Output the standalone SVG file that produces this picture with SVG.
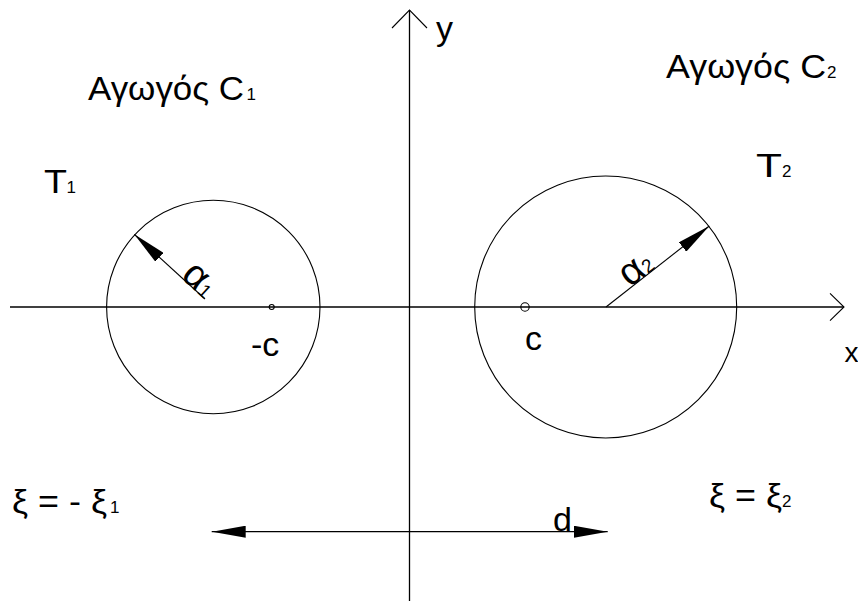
<svg xmlns="http://www.w3.org/2000/svg" width="858" height="601" viewBox="0 0 858 601">
<style>
.ln{stroke:#000;stroke-width:1.1;fill:none}
.ax{stroke:#000;stroke-width:1.3;fill:none}
.t{font-family:"Liberation Sans",Arial,sans-serif;font-size:34px;fill:#000}
.s{font-family:"Liberation Sans",Arial,sans-serif;font-size:17px;fill:#000}
.a{font-family:"Liberation Sans",Arial,sans-serif;font-size:39px;fill:#000}
</style>
<defs>
<marker id="ah" viewBox="0 0 34 12" refX="34" refY="6" markerWidth="34" markerHeight="12" markerUnits="userSpaceOnUse" orient="auto-start-reverse">
<path d="M0,0 L34,6 L0,12 z" fill="#000"/>
</marker>
</defs>
<g id="axes">
<line class="ax" x1="409.5" y1="10" x2="409.5" y2="601"/>
<polyline class="ln" points="392,28 409.5,10 427,28"/>
<line class="ax" x1="10" y1="307" x2="844" y2="307"/>
<polyline class="ln" points="830,293.3 844,307 830,320.7"/>
<text class="t" x="436" y="40">y</text>
<text class="t" x="844.5" y="361.5" style="font-size:28px">x</text>
</g>
<g id="conductor1">
<circle class="ln" cx="213.3" cy="307" r="106.7"/>
<circle class="ln" cx="271.7" cy="307" r="2.5"/>
<text class="t" x="88" y="100" textLength="156" lengthAdjust="spacingAndGlyphs">Αγωγός C</text>
<text class="s" x="246.5" y="100">1</text>
<text class="t" x="44" y="192.7" textLength="23" lengthAdjust="spacingAndGlyphs">T</text>
<text class="s" x="66.5" y="192.7">1</text>
<text class="t" x="251" y="356">-c</text>
<text class="t" x="12" y="513" textLength="95" lengthAdjust="spacingAndGlyphs">ξ = - ξ</text>
<text class="s" x="110" y="513">1</text>
</g>
<g id="conductor2">
<circle class="ln" cx="605.7" cy="307" r="131"/>
<circle class="ln" cx="525" cy="307" r="4.2"/>
<text class="t" x="666" y="77.7" textLength="160" lengthAdjust="spacingAndGlyphs">Αγωγός C</text>
<text class="s" x="827" y="77.7">2</text>
<text class="t" x="756" y="176.7" textLength="26" lengthAdjust="spacingAndGlyphs">T</text>
<text class="s" x="782" y="176.7">2</text>
<text class="t" x="525" y="350">c</text>
<text class="t" x="709" y="507" textLength="73" lengthAdjust="spacingAndGlyphs">ξ = ξ</text>
<text class="s" x="782" y="507">2</text>
</g>
<g id="connectors">
<line class="ln" x1="205" y1="299" x2="134.3" y2="234.3" marker-end="url(#ah)"/>
<text class="a" transform="translate(180,277) rotate(42.6)">α<tspan style="font-size:19px">1</tspan></text>
<line class="ln" x1="606" y1="307" x2="709.3" y2="226" marker-end="url(#ah)"/>
<text class="a" transform="translate(630,288) rotate(-38.1)">α<tspan style="font-size:19px">2</tspan></text>
<line class="ax" x1="211.7" y1="531.7" x2="607.7" y2="531.7" marker-start="url(#ah)" marker-end="url(#ah)"/>
<text class="t" x="553" y="531">d</text>
</g>
</svg>
